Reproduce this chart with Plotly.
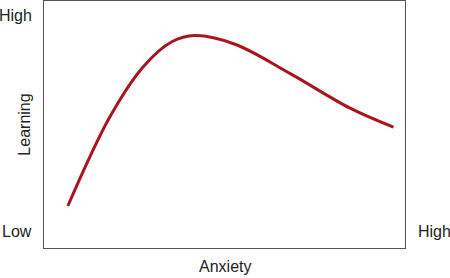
import plotly.graph_objects as go

# Curve data (relative units 0-100 on both axes)
anxiety = [6.6, 18.3, 27.5, 35.4, 41.8, 52.9, 68.1, 84.8, 96.8]
learning = [17.0, 53.2, 73.4, 83.5, 86.0, 82.5, 70.7, 56.6, 48.9]

y_labels = ["Low", "High"]
x_label_high = "High"
x_title = "Anxiety"
y_title = "Learning"

FONT = "Liberation Sans, Arial, sans-serif"
TXT = "#222222"

fig = go.Figure()
fig.add_trace(go.Scatter(
    x=anxiety, y=learning, mode="lines",
    line=dict(color="#a8151e", width=3, shape="spline", smoothing=1.0),
    hoverinfo="skip", showlegend=False,
))

fig.update_layout(
    width=450, height=278,
    margin=dict(l=44, r=45, t=1, b=30),
    paper_bgcolor="white", plot_bgcolor="white",
    font=dict(family=FONT, size=16, color=TXT),
    xaxis=dict(range=[0, 100], showgrid=False, zeroline=False, showticklabels=False,
               ticks="", showline=True, linecolor="#555555", linewidth=1.3, mirror=True),
    yaxis=dict(range=[0, 100], showgrid=False, zeroline=False, showticklabels=False,
               ticks="", showline=True, linecolor="#555555", linewidth=1.3, mirror=True),
)

# Y labels: Low (bottom) and High (top), left of the box
fig.add_annotation(text=y_labels[1], xref="paper", yref="paper", x=-0.028, y=0.941,
                   xanchor="right", yanchor="middle", showarrow=False)
fig.add_annotation(text=y_labels[0], xref="paper", yref="paper", x=-0.028, y=0.066,
                   xanchor="right", yanchor="middle", showarrow=False)
# X high label, right of the box at bottom
fig.add_annotation(text=x_label_high, xref="paper", yref="paper", x=1.03, y=0.066,
                   xanchor="left", yanchor="middle", showarrow=False)
# Axis titles
fig.add_annotation(text=x_title, xref="paper", yref="paper", x=0.5, y=-0.075,
                   xanchor="center", yanchor="middle", showarrow=False)
fig.add_annotation(text=y_title, xref="paper", yref="paper", x=-0.055, y=0.5,
                   xanchor="center", yanchor="middle", textangle=-90, showarrow=False)

fig.write_html("out.html")
